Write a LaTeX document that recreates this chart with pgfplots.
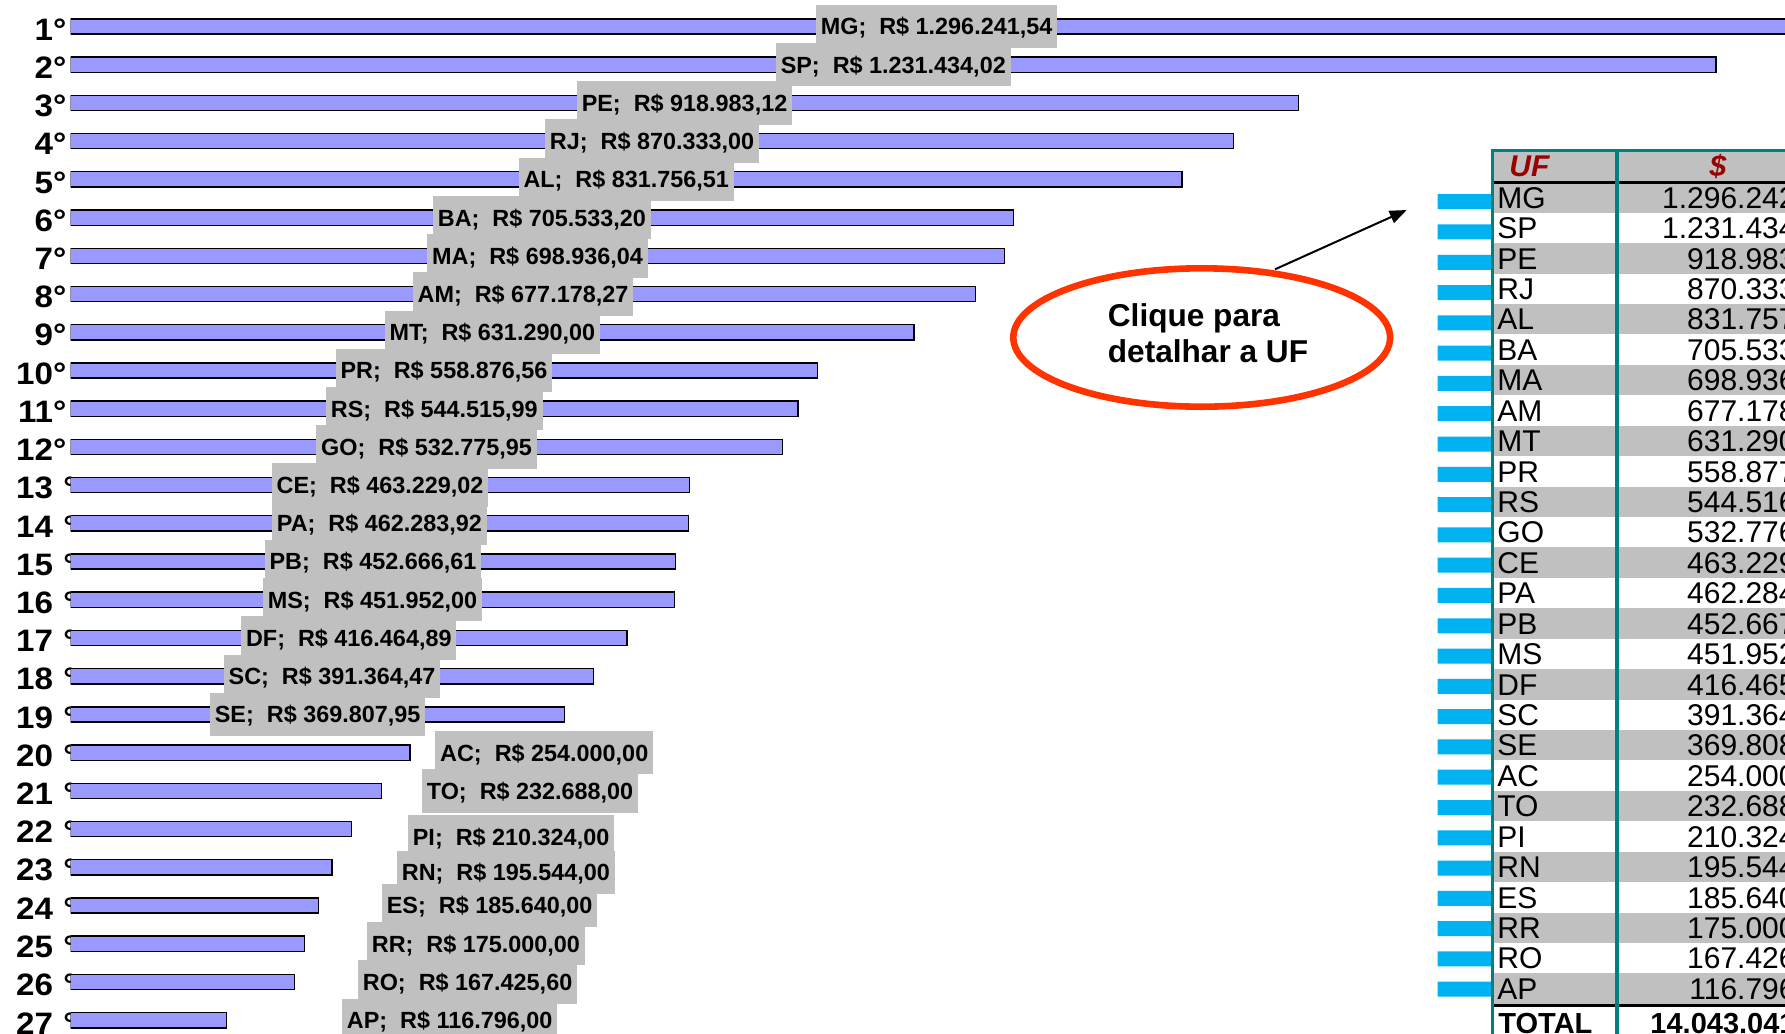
\documentclass[border=0pt]{standalone}
\usepackage{pgfplots}
\pgfplotsset{compat=1.18}
\usepackage{pgfplotstable}
\usepackage{fontspec}
\setmainfont{Liberation Sans}
\newfontfamily\rankfam[FakeStretch=1.07]{Liberation Sans}
\usetikzlibrary{arrows.meta}

\definecolor{barblue}{HTML}{9999FF}
\definecolor{labgray}{HTML}{C0C0C0}
\definecolor{tealc}{HTML}{008080}
\definecolor{darkred}{HTML}{990000}
\definecolor{ellred}{HTML}{FF3300}
\definecolor{cyanbar}{HTML}{00B2F0}

\newcommand\rankfont{\rankfam\fontsize{15.5}{15.5}\selectfont\bfseries}
\newcommand\lblfont{\fontsize{11.7}{12}\selectfont\bfseries}
\newcommand\tabfont{\fontsize{15}{15}\selectfont}
\newcommand\hdrfont{\fontsize{15}{15}\selectfont\bfseries\itshape}
\newcommand\totfont{\fontsize{14.5}{15}\selectfont\bfseries}
\newcommand\callfont{\fontsize{15.8}{18}\selectfont\bfseries}
\newcommand\rk[1]{#1\hphantom{°}\rlap{\kern-1.5pt °}}
\protected\def\Sc{;}
\protected\def\Cm{,}
\protected\def\Sp{\ }
\protected\def\Rs{R\$}

% ranking: rank, UF, value (R$)
\pgfplotstableread{
r uf v
1 MG 1296241.54
2 SP 1231434.02
3 PE 918983.12
4 RJ 870333.00
5 AL 831756.51
6 BA 705533.20
7 MA 698936.04
8 AM 677178.27
9 MT 631290.00
10 PR 558876.56
11 RS 544515.99
12 GO 532775.95
13 CE 463229.02
14 PA 462283.92
15 PB 452666.61
16 MS 451952.00
17 DF 416464.89
18 SC 391364.47
19 SE 369807.95
20 AC 254000.00
21 TO 232688.00
22 PI 210324.00
23 RN 195544.00
24 ES 185640.00
25 RR 175000.00
26 RO 167425.60
27 AP 116796.00
}\bars

% labels centred on the bars
\pgfplotstableread{
lx ly lab
648120.77 1 MG\Sc\Sp\Sp\Rs\Sp1.296.241\Cm54
615717.01 2 SP\Sc\Sp\Sp\Rs\Sp1.231.434\Cm02
459491.56 3 PE\Sc\Sp\Sp\Rs\Sp918.983\Cm12
435166.50 4 RJ\Sc\Sp\Sp\Rs\Sp870.333\Cm00
415878.26 5 AL\Sc\Sp\Sp\Rs\Sp831.756\Cm51
352766.60 6 BA\Sc\Sp\Sp\Rs\Sp705.533\Cm20
349468.02 7 MA\Sc\Sp\Sp\Rs\Sp698.936\Cm04
338589.14 8 AM\Sc\Sp\Sp\Rs\Sp677.178\Cm27
315645.00 9 MT\Sc\Sp\Sp\Rs\Sp631.290\Cm00
279438.28 10 PR\Sc\Sp\Sp\Rs\Sp558.876\Cm56
272258.00 11 RS\Sc\Sp\Sp\Rs\Sp544.515\Cm99
266387.98 12 GO\Sc\Sp\Sp\Rs\Sp532.775\Cm95
231614.51 13 CE\Sc\Sp\Sp\Rs\Sp463.229\Cm02
231141.96 14 PA\Sc\Sp\Sp\Rs\Sp462.283\Cm92
226333.31 15 PB\Sc\Sp\Sp\Rs\Sp452.666\Cm61
225976.00 16 MS\Sc\Sp\Sp\Rs\Sp451.952\Cm00
208232.45 17 DF\Sc\Sp\Sp\Rs\Sp416.464\Cm89
195682.24 18 SC\Sc\Sp\Sp\Rs\Sp391.364\Cm47
184903.98 19 SE\Sc\Sp\Sp\Rs\Sp369.807\Cm95
}\clabs

% labels placed beside the short bars (left edge)
\pgfplotstableread{
lx ly lab
272717 20 AC\Sc\Sp\Sp\Rs\Sp254.000\Cm00
262763 21 TO\Sc\Sp\Sp\Rs\Sp232.688\Cm00
252285 22.2 PI\Sc\Sp\Sp\Rs\Sp210.324\Cm00
244053 23.13 RN\Sc\Sp\Sp\Rs\Sp195.544\Cm00
232827 24 ES\Sc\Sp\Sp\Rs\Sp185.640\Cm00
221601 25 RR\Sc\Sp\Sp\Rs\Sp175.000\Cm00
214866 26 RO\Sc\Sp\Sp\Rs\Sp167.425\Cm60
202891 27 AP\Sc\Sp\Sp\Rs\Sp116.796\Cm00
}\wlabs

% side table
\pgfplotstableread{
r uf val
1 MG 1.296.242
2 SP 1.231.434
3 PE 918.983
4 RJ 870.333
5 AL 831.757
6 BA 705.533
7 MA 698.936
8 AM 677.178
9 MT 631.290
10 PR 558.877
11 RS 544.516
12 GO 532.776
13 CE 463.229
14 PA 462.284
15 PB 452.667
16 MS 451.952
17 DF 416.465
18 SC 391.364
19 SE 369.808
20 AC 254.000
21 TO 232.688
22 PI 210.324
23 RN 195.544
24 ES 185.640
25 RR 175.000
26 RO 167.426
27 AP 116.796
}\tab

% small cyan bars beside the table
\pgfplotstableread{
x y
1 201.70
1 231.99
1 262.28
1 292.57
1 322.86
1 353.15
1 383.44
1 413.73
1 444.02
1 474.31
1 504.60
1 534.89
1 565.18
1 595.47
1 625.76
1 656.05
1 686.34
1 716.63
1 746.92
1 777.21
1 807.50
1 837.79
1 868.08
1 898.37
1 928.66
1 958.95
1 989.24
}\cyanbars

\begin{document}
\begin{tikzpicture}
\useasboundingbox (0,0) rectangle (892.5pt,517pt);
\clip (0,0) rectangle (892.5pt,517pt);

\begin{axis}[
  at={(35.3pt,0pt)}, anchor=south west,
  scale only axis, width=857.2pt, height=517pt,
  xmin=0, xmax=1283100, ymin=0.3067, ymax=27.361, y dir=reverse,
  axis line style={draw=none}, tick style={draw=none},
  xtick=\empty, ytick={1,...,27},
  yticklabels={1°,2°,3°,4°,5°,6°,7°,8°,9°,10°,11°,12°,\rk{13},\rk{14},\rk{15},\rk{16},\rk{17},\rk{18},\rk{19},\rk{20},\rk{21},\rk{22},\rk{23},\rk{24},\rk{25},\rk{26},\rk{27}},
  yticklabel style={font=\rankfont, anchor=east, inner sep=0pt, xshift=-1.9pt, yshift=-1.5pt},
  clip=true,
]
\addplot[xbar, bar width=7.6pt, fill=barblue, draw=black, line width=0.7pt] table[x=v, y=r] {\bars};
\addplot[draw=none, mark=none, forget plot, nodes near coords, point meta=explicit symbolic,
  nodes near coords style={anchor=center, fill=labgray, inner xsep=2.4pt, inner ysep=0pt,
    minimum height=21.7pt, text height=8.4pt, text depth=0pt, font=\lblfont}]
  table[x=lx, y=ly, meta=lab] {\clabs};
\addplot[draw=none, mark=none, forget plot, nodes near coords, point meta=explicit symbolic,
  nodes near coords style={anchor=west, fill=labgray, inner xsep=2.4pt, inner ysep=0pt,
    minimum height=21.7pt, text height=8.4pt, text depth=0pt, font=\lblfont}]
  table[x=lx, y=ly, meta=lab] {\wlabs};
\end{axis}

% cyan bars
\begin{axis}[
  at={(718.85pt,0pt)}, anchor=south west,
  scale only axis, width=27pt, height=517pt,
  xmin=0, xmax=1, ymin=0, ymax=1034, y dir=reverse, hide axis,
]
\addplot[xbar, bar width=7.5pt, fill=cyanbar, draw=none] table[x=x, y=y] {\cyanbars};
\end{axis}

% table and callout (pixel coordinates)
\begin{axis}[
  at={(0pt,0pt)}, anchor=south west,
  scale only axis, width=892.5pt, height=517pt,
  xmin=0, xmax=1785, ymin=0, ymax=1034, y dir=reverse, hide axis, clip=false,
]
\pgfplotsinvokeforeach{0,2,...,26}{
  \fill[labgray] (axis cs:1492.4,{182.3+#1*30.43}) rectangle (axis cs:1800,{182.3+(#1+1)*30.43});
}
\fill[labgray] (axis cs:1492.4,150.7) rectangle (axis cs:1800,182.3);
\draw[black, line width=1.4pt] (axis cs:1492.4,182.3) -- (axis cs:1800,182.3);
\draw[black, line width=1.4pt] (axis cs:1492.4,1005.5) -- (axis cs:1800,1005.5);
\draw[tealc, line width=1.6pt] (axis cs:1490.8,150.7) -- (axis cs:1800,150.7);
\draw[tealc, line width=1.6pt] (axis cs:1492.4,150) -- (axis cs:1492.4,1040);
\draw[tealc, line width=1.8pt] (axis cs:1616.7,150) -- (axis cs:1616.7,1040);

\node[anchor=west, inner sep=0pt, text height=10.7pt, text depth=0pt, font=\hdrfont, text=darkred] at (axis cs:1509,166) {UF};
\node[anchor=center, inner sep=0pt, text height=10.7pt, text depth=0pt, font=\hdrfont, text=darkred] at (axis cs:1718,166) {\$};

\addplot[draw=none, mark=none, forget plot, nodes near coords, point meta=explicit symbolic,
  nodes near coords style={anchor=west, inner sep=0pt, text height=10.7pt, text depth=0pt, font=\tabfont}]
  table[x expr=1497, y expr=182.3+(\thisrow{r}-0.5)*30.43, meta=uf] {\tab};
\addplot[draw=none, mark=none, forget plot, nodes near coords, point meta=explicit symbolic,
  nodes near coords style={anchor=east, inner sep=0pt, text height=10.7pt, text depth=0pt, font=\tabfont}]
  table[x expr=1796, y expr=182.3+(\thisrow{r}-0.5)*30.43, meta=val] {\tab};

\node[anchor=base west, inner sep=0pt, font=\totfont] at (axis cs:1498,1033.5) {TOTAL};
\node[anchor=base east, inner sep=0pt, font=\totfont] at (axis cs:1796,1033.5) {14.043.041};

\draw[ellred, line width=3.3pt] (axis cs:1201.7,337.5) ellipse [x radius=94.2pt, y radius=34.6pt];
\node[anchor=base west, inner sep=0pt, font=\callfont] at (axis cs:1107.5,326.7) {Clique para};
\node[anchor=base west, inner sep=0pt, font=\callfont] at (axis cs:1107.5,362.7) {detalhar a UF};
\draw[line width=1pt, -{Triangle[length=8.5pt,width=6.5pt]}] (axis cs:1275,269.3) -- (axis cs:1406.7,210);
\end{axis}
\end{tikzpicture}
\end{document}
